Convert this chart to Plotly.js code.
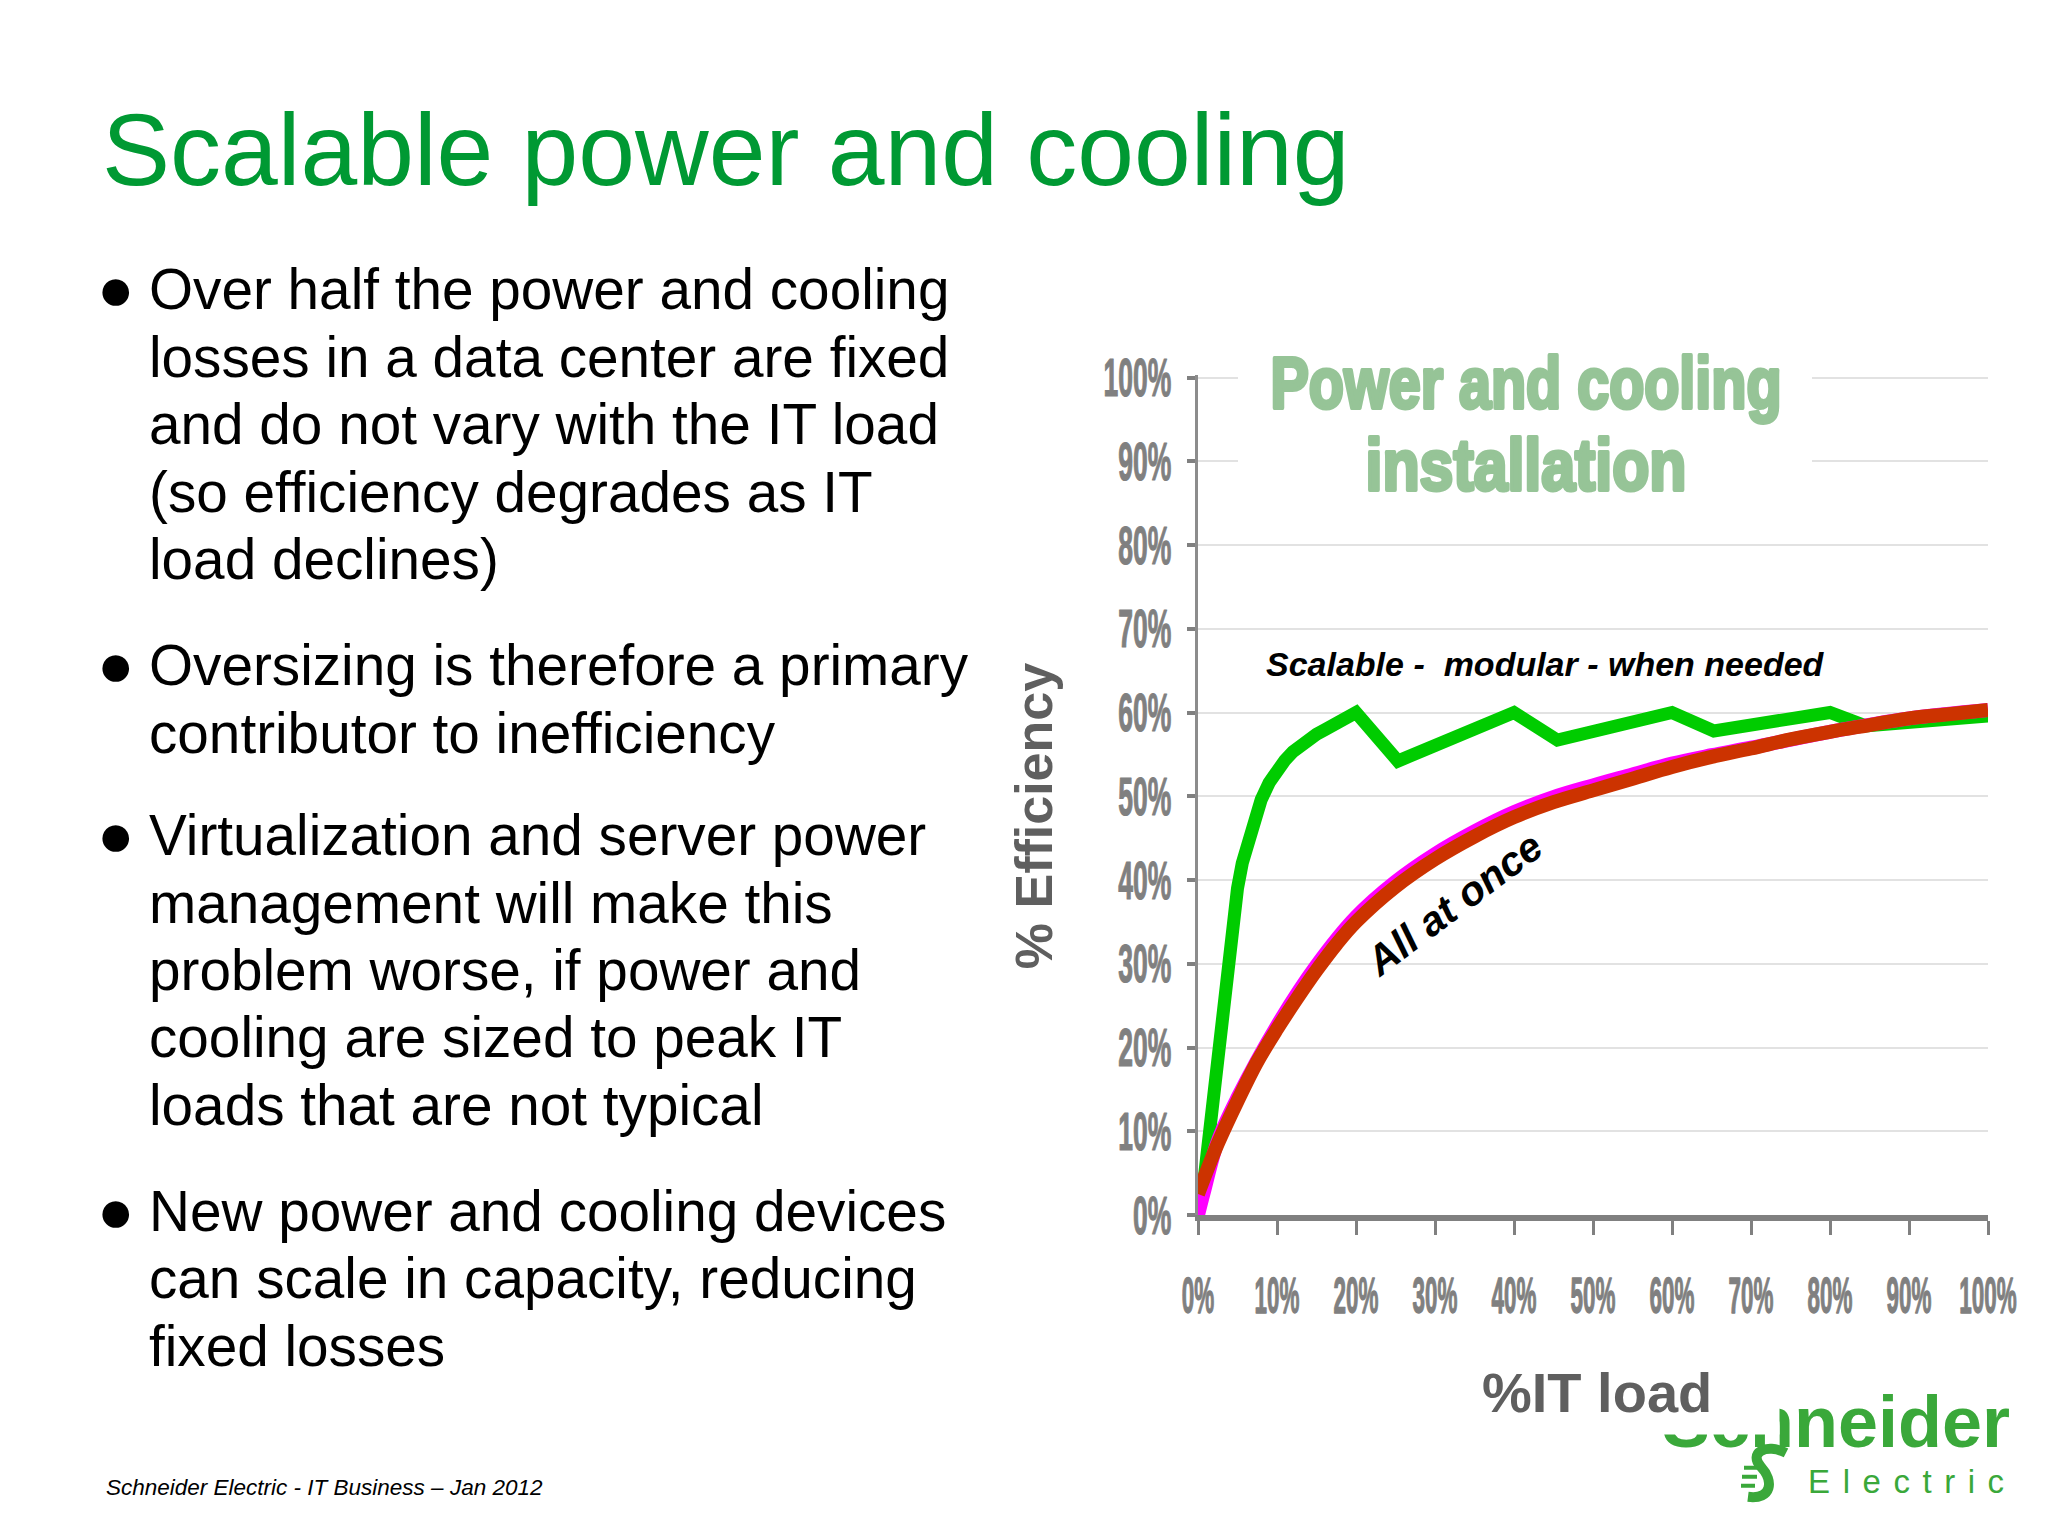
<!DOCTYPE html>
<html><head><meta charset="utf-8">
<script src="https://cdn.plot.ly/plotly-3.0.1.min.js"></script>
<style>html,body{margin:0;padding:0;background:#fff;}#chart{width:2048px;height:1536px;}</style>
</head><body><div id="chart"></div>
<script>
// ---- data ----
const scalableX = [0.5, 1.5, 2.5, 3.6, 5, 5.6, 6.3, 7, 8, 9, 10, 11, 12, 13, 14, 15, 16, 17, 18, 19, 20, 25.3, 40, 45.5, 60, 65.3, 80, 84.5, 90, 95, 100];
const scalableY = [2, 10, 20, 30, 39, 42, 44.6, 46.9, 49.6, 51.6, 53.1, 54.3, 55.3, 56.1, 56.8, 57.4, 57.9, 58.4, 58.9, 59.4, 60, 54.2, 60, 56.7, 60, 57.8, 60, 58.4, 58.9, 59.3, 59.6];
const allAtOnceX = [0, 2.5, 5, 7.5, 10, 12.5, 15, 17.5, 20, 25, 30, 35, 40, 45, 50, 55, 60, 65, 70, 75, 80, 85, 90, 95, 100];
const allAtOnceY = [2.5, 8.5, 13.6, 18.3, 22.2, 25.8, 29.2, 32.3, 35, 39.2, 42.5, 45.2, 47.5, 49.3, 50.7, 52.1, 53.5, 54.7, 55.7, 56.8, 57.7, 58.5, 59.3, 59.8, 60.3];
const underlayX = [0, 0.7, 2.5, 5, 10, 15, 20, 25, 30, 35, 40, 45, 50, 55, 60, 65, 70, 80, 90, 100];
const underlayY = [0, 2.6, 8.8, 14.0, 22.6, 29.8, 35.6, 39.8, 43.1, 45.8, 48.1, 49.9, 51.3, 52.6, 53.9, 54.9, 55.8, 57.7, 59.3, 60.3];
const tickVals = [0, 10, 20, 30, 40, 50, 60, 70, 80, 90, 100];
const tickText = ['0%', '10%', '20%', '30%', '40%', '50%', '60%', '70%', '80%', '90%', '100%'];
const slideTitle = 'Scalable power and cooling';
const chartTitleLines = ['Power and cooling', 'installation'];
const seriesLabels = ['Scalable -\u00a0 modular - when needed', 'All at once'];
const axisTitles = ['%IT load', '% Efficiency'];
const bulletBlocks = [
  ['Over half the power and cooling', 'losses in a data center are fixed', 'and do not vary with the IT load', '(so efficiency degrades as IT', 'load declines)'],
  ['Oversizing is therefore a primary', 'contributor to inefficiency'],
  ['Virtualization and server power', 'management will make this', 'problem worse, if power and', 'cooling are sized to peak IT', 'loads that are not typical'],
  ['New power and cooling devices', 'can scale in capacity, reducing', 'fixed losses']
];
const footer = 'Schneider Electric - IT Business \u2013 Jan 2012';
const logoWords = ['Schneider', 'Electric'];

// ---- geometry ----
const L = 1198, R = 1988, T = 374.5, B = 1215;
const W = R - L, H = B - T;
const px = v => (v - L) / W;
const py = v => (B - v) / H;
const FONT = 'Liberation Sans, Arial, Helvetica, sans-serif';

const annotations = [];
function addText(text, x, baseline, size, o) {
  o = o || {};
  annotations.push({
    text: text, xref: 'paper', yref: 'paper',
    x: px(x), y: py(baseline - 0.3465 * size),
    xanchor: o.anchor || 'left', yanchor: 'middle', showarrow: false,
    textangle: o.angle || 0,
    font: {family: FONT, size: size, color: o.color || '#000', weight: o.weight || 'normal', style: o.style || 'normal'}
  });
  return annotations.length - 1;
}

// slide title
addText(slideTitle, 100, 185, 102, {color: '#009933'});
// bullets
const bulletStarts = [309, 685, 855, 1231];
const lineGap = 67.5;
bulletBlocks.forEach((blk, bi) => {
  annotations.push({text: '\u25CF', xref: 'paper', yref: 'paper', x: px(115), y: py(bulletStarts[bi] - 21),
    xanchor: 'center', yanchor: 'middle', showarrow: false,
    font: {family: FONT, size: 62, color: '#000'}});
  blk.forEach((ln, li) => addText(ln, 147, bulletStarts[bi] + li * lineGap, 56.7));
});
// footer
addText(footer, 104, 1495, 22.5, {style: 'italic'});

// chart title (squeezed later)
const iT1 = addText(chartTitleLines[0], 1525.5, 407, 72, {anchor: 'center', color: '#96c497', weight: 'bold'});
const iT2 = addText(chartTitleLines[1], 1525.5, 490, 72, {anchor: 'center', color: '#96c497', weight: 'bold'});
// series labels
addText(seriesLabels[0], 1545, 675, 34, {anchor: 'center', weight: 'bold', style: 'italic'});
annotations.push({text: seriesLabels[1], xref: 'paper', yref: 'paper', x: px(1454), y: py(904),
  xanchor: 'center', yanchor: 'middle', showarrow: false, textangle: -37,
  font: {family: FONT, size: 41, color: '#000', weight: 'bold', style: 'italic'}});
// y axis title
annotations.push({text: axisTitles[1], xref: 'paper', yref: 'paper', x: px(1034), y: py(816),
  xanchor: 'center', yanchor: 'middle', showarrow: false, textangle: -90,
  font: {family: FONT, size: 52, color: '#5f5f5f', weight: 'bold'}});
// logo words
addText(logoWords[0], 1660, 1447, 72, {color: '#3aa83a', weight: 'bold'});
const iE = addText(logoWords[1], 1906, 1493, 33, {anchor: 'center', color: '#3aa83a'});
// white box covering part of the logo, then x axis title
annotations.push({text: '\u00a0', xref: 'paper', yref: 'paper', x: px(1780), y: py(1435),
  xanchor: 'right', yanchor: 'bottom', showarrow: false, width: 310, height: 95,
  bgcolor: '#ffffff', borderpad: 0, font: {size: 10}});
addText(axisTitles[0], 1480, 1412, 56, {color: '#5f5f5f', weight: 'bold'});

// logo symbol (graphic) as a path in paper coordinates
function pathFrom(cmds) {
  return cmds.map(c => c[0] + ' ' + c.slice(1).map((v, i) => (i % 2 === 0 ? px(v) : py(v)).toFixed(5)).join(' ')).join(' ');
}
const logoCurve = pathFrom([['M', 1786, 1453], ['C', 1766, 1443, 1748, 1453, 1761, 1467], ['C', 1774, 1481, 1772, 1500, 1748, 1497]]);
const logoDashes = pathFrom([['M', 1744, 1468], ['L', 1757, 1468], ['M', 1742, 1477], ['L', 1757, 1477], ['M', 1741, 1486], ['L', 1755, 1486]]);

const traces = [
  {x: scalableX, y: scalableY, mode: 'lines', line: {color: '#00cc00', width: 13}, hoverinfo: 'skip'},
  {x: underlayX, y: underlayY, mode: 'lines', line: {color: '#ff00ff', width: 14, shape: 'spline', smoothing: 1}, hoverinfo: 'skip'},
  {x: allAtOnceX, y: allAtOnceY, mode: 'lines', line: {color: '#cc3300', width: 14, shape: 'spline', smoothing: 1}, hoverinfo: 'skip'}
];

const tickFontX = {family: FONT, size: 34, color: '#808080', weight: 'bold'};
const tickFontY = {family: FONT, size: 53, color: '#808080', weight: 'bold'};

const layout = {
  width: 2048, height: 1536, autosize: false,
  margin: {l: L, r: 2048 - R, t: T, b: 1536 - B, pad: 0},
  paper_bgcolor: '#ffffff', plot_bgcolor: '#ffffff',
  showlegend: false,
  xaxis: {range: [0, 100], tickvals: tickVals, ticktext: tickText, tickangle: 0, showgrid: false, zeroline: false,
    showline: true, linecolor: '#808080', linewidth: 6, ticks: 'outside', ticklen: 14, tickwidth: 3,
    tickcolor: '#808080', tickfont: tickFontX, ticklabelstandoff: 20, ticklabeloverflow: 'allow', fixedrange: true},
  yaxis: {range: [0, 100.3], tickvals: tickVals, ticktext: tickText, showgrid: true, gridcolor: '#e2e2e2',
    gridwidth: 2, zeroline: false, showline: true, linecolor: '#8c8c8c', linewidth: 3,
    ticks: 'outside', ticklen: 8, tickwidth: 4, tickcolor: '#808080', tickfont: tickFontY,
    ticklabelstandoff: 5, fixedrange: true},
  shapes: [
    {type: 'rect', xref: 'paper', yref: 'paper', x0: px(1238), x1: px(1812), y0: py(520), y1: py(340),
      fillcolor: '#ffffff', line: {width: 0}, layer: 'above'},
    {type: 'path', xref: 'paper', yref: 'paper', path: logoCurve, line: {color: '#3aa83a', width: 10}, layer: 'above'},
    {type: 'path', xref: 'paper', yref: 'paper', path: logoDashes, line: {color: '#3aa83a', width: 4}, layer: 'above'}
  ],
  annotations: annotations
};

function squeeze(el, target, mode) {
  if (!el) return;
  el.setAttribute('textLength', target);
  el.setAttribute('lengthAdjust', mode || 'spacingAndGlyphs');
}
function thicken(el, color, w) {
  if (!el) return;
  el.style.stroke = color;
  el.style.strokeWidth = w + 'px';
  el.style.strokeLinejoin = 'round';
}
function annText(i) {
  return document.querySelector('g.annotation[data-index="' + i + '"] text.annotation-text');
}

Plotly.newPlot('chart', traces, layout, {staticPlot: true, displayModeBar: false}).then(() => {
  document.querySelectorAll('.ytick text').forEach(t => { squeeze(t, t.getComputedTextLength() * 0.5); thicken(t, '#808080', 1.2); });
  const host = document.getElementById('chart').getBoundingClientRect();
  document.querySelectorAll('.xtick text').forEach(t => {
    const bb = t.getBBox();
    const r = t.getBoundingClientRect();
    const dy = 1267 - (r.top - host.top);
    const cx = bb.x + bb.width / 2, cy = bb.y;
    const orig = t.getAttribute('transform') || '';
    t.setAttribute('transform', orig + ' translate(0,' + dy + ') translate(' + cx + ',' + cy + ') scale(0.66,1.47) translate(' + (-cx) + ',' + (-cy) + ')');
    thicken(t, '#808080', 0.9);
  });
  squeeze(annText(iT1), 511); thicken(annText(iT1), '#96c497', 4);
  squeeze(annText(iT2), 321); thicken(annText(iT2), '#96c497', 4);
  squeeze(annText(iE), 196, 'spacing');
});
</script></body></html>
